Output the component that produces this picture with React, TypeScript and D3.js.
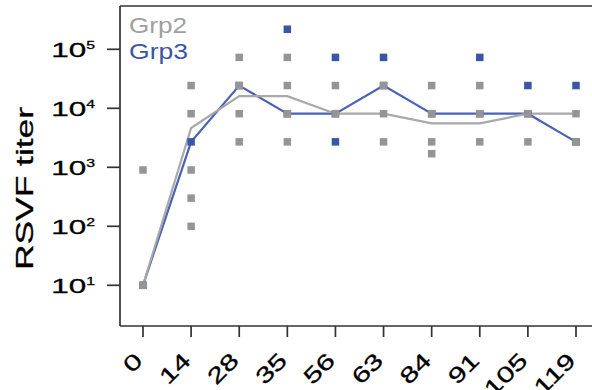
import React from "react";
import * as d3 from "d3";

// ---- data ----
const days: string[] = ["0", "14", "28", "35", "56", "63", "84", "91", "105", "119"];
const grp2Line: number[] = [10, 4640, 16100, 16100, 8100, 8100, 5570, 5570, 8100, 8100];
const grp3Line: number[] = [10, 2700, 24300, 8100, 8100, 24300, 8100, 8100, 8100, 2700];
// individual animals, per day (same order as days)
const grp2Dots: number[][] = [
  [10, 900],
  [24300, 8100, 900, 300, 100],
  [72900, 24300, 8100, 2700],
  [72900, 24300, 8100, 2700],
  [24300, 8100],
  [24300, 8100, 2700],
  [24300, 8100, 2700, 1700],
  [24300, 8100, 2700],
  [8100, 2700],
  [8100, 2700],
];
const grp3Dots: number[][] = [
  [10],
  [2700],
  [24300],
  [218700, 8100],
  [72900, 8100, 2700],
  [72900, 24300],
  [8100],
  [72900, 8100],
  [24300, 8100],
  [24300, 2700],
];
const yTickExps: number[] = [1, 2, 3, 4, 5];
const seriesNames: string[] = ["Grp2", "Grp3"];

// ---- styles ----
const W = 592;
const H = 390;
const FONT = "'Liberation Sans', Arial, Helvetica, sans-serif";
const AXIS = "#333";
const GRAY_DOT = "#959595";
const BLUE_DOT = "#3b55a8";
const GRAY_LINE = "#a9a9a9";
const BLUE_LINE = "#4a63b6";
const SQ = 7.5;

export default function App() {
  const x = d3.scalePoint<string>().domain(days).range([143, 576]);
  const y = d3.scaleLog().domain([10, 100000]).range([285.3, 49.3]);
  const plotLeft = 120;
  const plotTop = 6;
  const plotBottom = 326;

  const line = d3
    .line<number>()
    .x((_, i) => x(days[i]) as number)
    .y((v) => y(v));

  const dots = (data: number[][], color: string, key: string) =>
    data.flatMap((vals, i) =>
      vals.map((v, j) => (
        <rect
          key={`${key}-${i}-${j}`}
          x={(x(days[i]) as number) - SQ / 2}
          y={y(v) - SQ / 2}
          width={SQ}
          height={SQ}
          fill={color}
        />
      ))
    );

  return (
    <svg
      width={W}
      height={H}
      style={{ position: "absolute", left: 0, top: 0, background: "#fff" }}
      fontFamily={FONT}
    >
      <rect x={0} y={0} width={W} height={H} fill="#fff" />
      {/* box (right side is outside the picture) */}
      <line x1={plotLeft} x2={W + 10} y1={plotTop} y2={plotTop} stroke={AXIS} strokeWidth={1.7} />
      <line x1={plotLeft} x2={W + 10} y1={plotBottom} y2={plotBottom} stroke={AXIS} strokeWidth={1.7} />
      <line x1={plotLeft} x2={plotLeft} y1={plotTop} y2={plotBottom} stroke={AXIS} strokeWidth={1.7} />

      {/* y ticks */}
      {yTickExps.map((e) => {
        const ty = y(Math.pow(10, e));
        return (
          <g key={`yt-${e}`}>
            <line x1={107} x2={plotLeft} y1={ty} y2={ty} stroke={AXIS} strokeWidth={1.7} />
            <g transform={`translate(95,${ty + 7.5}) scale(1.5,1)`}>
              <text textAnchor="end" fontSize={21} fill="#000" stroke="#000" strokeWidth={0.3}>
                10
                <tspan fontSize={10.5} dy={-8}>
                  {e}
                </tspan>
              </text>
            </g>
          </g>
        );
      })}

      {/* x ticks */}
      {days.map((d) => {
        const tx = x(d) as number;
        return (
          <g key={`xt-${d}`}>
            <line x1={tx} x2={tx} y1={plotBottom} y2={337} stroke={AXIS} strokeWidth={1.7} />
            <g transform={`translate(${tx + 1},362) rotate(-45) scale(1.38,1)`}>
              <text textAnchor="end" fontSize={22} fill="#000" stroke="#000" strokeWidth={0.3}>
                {d}
              </text>
            </g>
          </g>
        );
      })}

      {/* y title */}
      <g transform="translate(33,188.5) rotate(-90)">
        <text
          textAnchor="middle"
          fontSize={24}
          fill="#000"
          stroke="#000"
          strokeWidth={0.3}
          textLength={163}
          lengthAdjust="spacingAndGlyphs"
        >
          RSVF titer
        </text>
      </g>

      {/* lines */}
      <path d={line(grp3Line) || ""} fill="none" stroke={BLUE_LINE} strokeWidth={2.2} />
      <path d={line(grp2Line) || ""} fill="none" stroke={GRAY_LINE} strokeWidth={2.2} />

      {/* dots */}
      {dots(grp3Dots, BLUE_DOT, "g3")}
      {dots(grp2Dots, GRAY_DOT, "g2")}

      {/* legend */}
      <text x={129} y={33} fontSize={22} fill="#a0a0a0" textLength={58} lengthAdjust="spacingAndGlyphs">
        {seriesNames[0]}
      </text>
      <text x={129} y={59} fontSize={22} fill={BLUE_DOT} textLength={59} lengthAdjust="spacingAndGlyphs">
        {seriesNames[1]}
      </text>
    </svg>
  );
}
